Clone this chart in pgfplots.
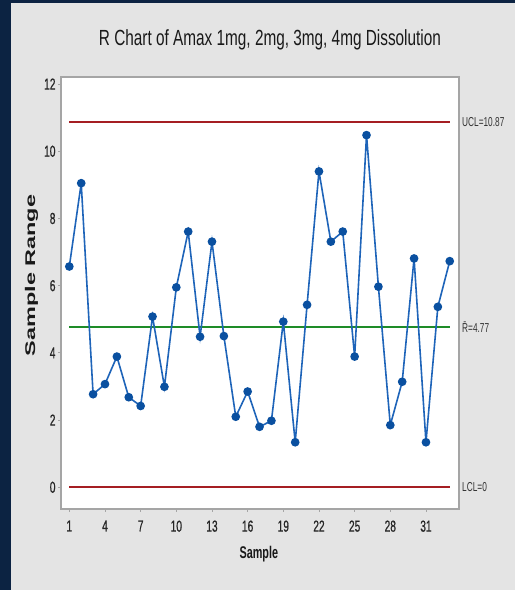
\documentclass[border=0pt]{standalone}
\usepackage{pgfplots}
\pgfplotsset{compat=1.18}
\usepackage{fontspec}
\setmainfont{Liberation Sans}
\newfontfamily\condA[FakeStretch=0.64,FakeBold=0.6]{Liberation Sans}
\newfontfamily\condT[FakeStretch=0.70]{Liberation Sans}
\newfontfamily\condL[FakeStretch=0.64]{Liberation Sans}
\definecolor{navy}{RGB}{12,35,66}
\definecolor{panel}{RGB}{228,228,228}
\definecolor{frame}{RGB}{165,165,165}
\definecolor{dblue}{RGB}{30,100,185}
\definecolor{mblue}{RGB}{10,80,160}
\definecolor{ucl}{RGB}{165,30,35}
\definecolor{cl}{RGB}{30,140,40}
\begin{document}
\begin{tikzpicture}[x=1bp,y=1bp]
\fill[navy] (0,0) rectangle (515,590);
\fill[panel] (11,0) rectangle (515,587);
\begin{axis}[
  at={(61bp,81bp)}, anchor=south west,
  scale only axis, width=398bp, height=432bp,
  xmin=0.30, xmax=33.78, ymin=-0.646, ymax=12.21,
  xtick={1,4,7,10,13,16,19,22,25,28,31},
  ytick={0,2,4,6,8,10,12},
  tick pos=left, tick align=outside,
  major tick length=3bp,
  every tick/.style={frame, line width=0.8bp},
  axis line style={frame, line width=1.6bp},
  axis background/.style={fill=white},
  /pgf/number format/assume math mode=true,
  tick label style={font=\condA\fontsize{16}{16}\selectfont, text=black!85},
  xticklabel style={yshift=-5bp},
  yticklabel style={xshift=1bp},
  clip=false,
  title={\condT\fontsize{22}{22}\selectfont R Chart of Amax 1mg, 2mg, 3mg, 4mg Dissolution},
  title style={at={(rel axis cs:0.525,1.0579)}, anchor=base, text=black!90},
  xlabel={\condL\fontsize{17}{17}\selectfont\bfseries Sample},
  xlabel style={at={(rel axis cs:0.497,-0.1157)}, anchor=base, text=black!90},
  ylabel={\scalebox{1}[0.6]{\fontsize{23.5}{23.5}\selectfont\bfseries Sample Range}},
  ylabel style={at={(rel axis cs:-0.0653,0.5405)}, anchor=base, rotate=0, text=black!90},
]
\addplot[ucl, line width=1.8bp] coordinates {(1,10.87) (33,10.87)};
\addplot[cl, line width=1.8bp] coordinates {(1,4.77) (33,4.77)};
\addplot[ucl, line width=1.8bp] coordinates {(1,0) (33,0)};
\addplot[dblue, line width=1.6bp, mark=*, mark size=3.5bp, mark options={fill=mblue, draw=mblue}] coordinates {
(1,6.57) (2,9.05) (3,2.77) (4,3.07) (5,3.89) (6,2.68) (7,2.42) (8,5.08) (9,2.99) (10,5.95)
(11,7.61) (12,4.48) (13,7.31) (14,4.50) (15,2.10) (16,2.85) (17,1.80) (18,1.98) (19,4.93) (20,1.34)
(21,5.43) (22,9.40) (23,7.31) (24,7.61) (25,3.89) (26,10.48) (27,5.97) (28,1.85) (29,3.14) (30,6.81)
(31,1.34) (32,5.37) (33,6.73)};
\node[anchor=west, inner sep=0pt, text=black!80, font=\condL\fontsize{13}{13}\selectfont] at (rel axis cs:1,0.8967) [xshift=3bp] {UCL=10.87};
\node[anchor=west, inner sep=0pt, text=black!80, font=\condL\fontsize{13}{13}\selectfont] at (axis cs:33.78,4.77) [xshift=3bp] {\=R=4.77};
\node[anchor=west, inner sep=0pt, text=black!80, font=\condL\fontsize{13}{13}\selectfont] at (axis cs:33.78,0) [xshift=3bp] {LCL=0};
\end{axis}
\end{tikzpicture}
\end{document}
